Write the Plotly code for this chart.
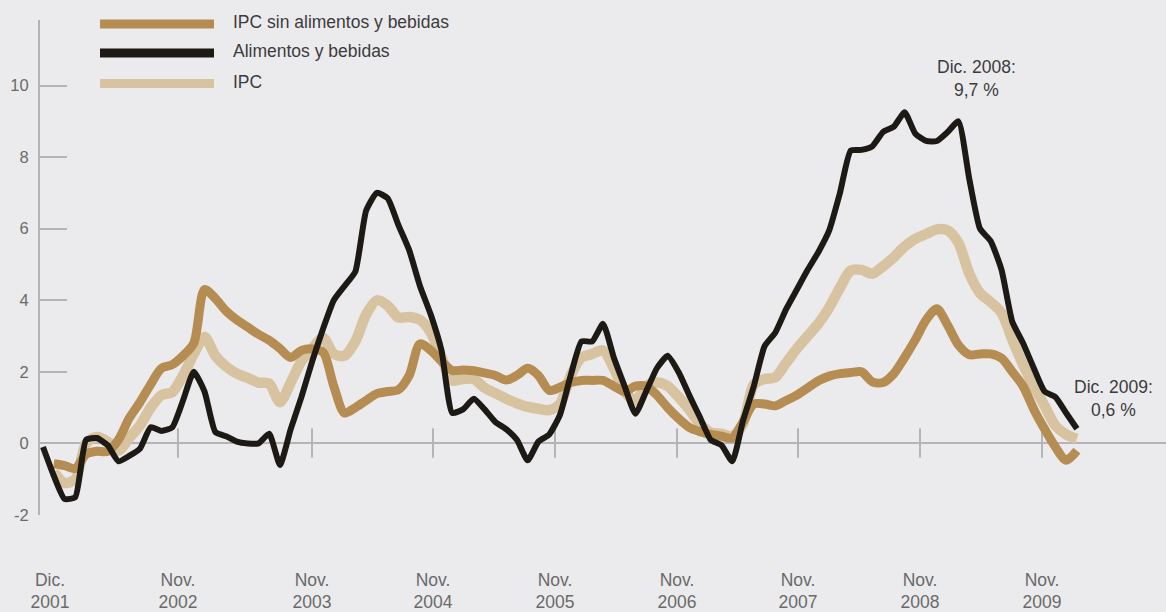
import plotly.graph_objects as go

# ---------------- data (monthly, Dic. 2001 = month 0 ... Dic. 2009 = month 96) ----------------
months = list(range(97))

alimentos = [
    -0.1, -0.9, -1.55, -1.5, 0.1, 0.15, -0.05, -0.5, -0.35, -0.15,
    0.45, 0.35, 0.45, 1.2, 2.0, 1.45, 0.32, 0.2, 0.05, 0.0,
    0.0, 0.27, -0.6, 0.4, 1.3, 2.3, 3.2, 4.0, 4.4, 4.8,
    6.5, 7.0, 6.85, 6.1, 5.4, 4.4, 3.6, 2.6, 0.85, 0.95,
    1.25, 0.95, 0.6, 0.4, 0.1, -0.47, 0.05, 0.25, 0.8, 1.9,
    2.85, 2.85, 3.34, 2.4, 1.6, 0.83, 1.45, 2.1, 2.45, 2.0,
    1.35, 0.73, 0.1, -0.05, -0.5, 0.64, 1.6, 2.72, 3.1, 3.75,
    4.3, 4.85, 5.35, 5.95, 7.0, 8.18, 8.2, 8.3, 8.7, 8.85,
    9.25, 8.65, 8.45, 8.45, 8.7, 9.0, 7.4, 6.0, 5.65, 4.85,
    3.4, 2.8, 2.1, 1.45, 1.3, 0.85, 0.41,
]

ipc_sin_alimentos = [
    None, -0.57, -0.62, -0.7, -0.3, -0.22, -0.22, 0.1, 0.7, 1.15,
    1.65, 2.1, 2.2, 2.45, 2.8, 4.3, 4.05, 3.7, 3.45, 3.25,
    3.05, 2.88, 2.65, 2.4, 2.6, 2.64, 2.55, 1.6, 0.85, 1.0,
    1.2, 1.39, 1.45, 1.5, 1.9, 2.78, 2.6, 2.3, 2.04, 2.05,
    2.03, 1.97, 1.9, 1.77, 1.9, 2.1, 1.9, 1.48, 1.57, 1.7,
    1.76, 1.76, 1.76, 1.6, 1.45, 1.6, 1.6, 1.35, 1.0, 0.7,
    0.45, 0.33, 0.25, 0.2, 0.15, 0.6, 1.1, 1.1, 1.05, 1.2,
    1.35, 1.55, 1.75, 1.88, 1.95, 1.98, 2.0, 1.72, 1.7, 1.95,
    2.4, 2.9, 3.45, 3.76, 3.3, 2.75, 2.48, 2.5, 2.5, 2.38,
    2.0, 1.6, 0.95, 0.4, -0.1, -0.47, -0.2,
]

ipc = [
    None, -0.8, -1.1, -1.0, 0.0, 0.18, 0.05, -0.2, 0.15, 0.5,
    1.0, 1.35, 1.43, 1.9, 2.5, 2.97, 2.45, 2.15, 1.95, 1.83,
    1.7, 1.67, 1.15, 1.7, 2.3, 2.65, 2.95, 2.5, 2.45, 2.85,
    3.6, 4.0, 3.85, 3.52, 3.53, 3.45, 3.1, 2.41, 1.76, 1.8,
    1.8, 1.55, 1.4, 1.25, 1.12, 1.02, 0.97, 0.93, 1.1, 1.9,
    2.4, 2.5, 2.6, 2.1, 1.45, 1.2, 1.6, 1.7, 1.6, 1.3,
    0.95, 0.55, 0.3, 0.27, 0.2, 0.55, 1.65, 1.8, 1.85, 2.25,
    2.65, 3.0, 3.35, 3.8, 4.35, 4.83, 4.85, 4.74, 4.95, 5.2,
    5.5, 5.72, 5.85, 5.98, 5.95, 5.6, 4.75, 4.2, 3.95, 3.65,
    2.9, 2.2, 1.6, 1.05, 0.5, 0.25, 0.13,
]

series_names = ["IPC sin alimentos y bebidas", "Alimentos y bebidas", "IPC"]

x_tick_labels = ["Dic.<br>2001", "Nov.<br>2002", "Nov.<br>2003", "Nov.<br>2004", "Nov.<br>2005",
                 "Nov.<br>2006", "Nov.<br>2007", "Nov.<br>2008", "Nov.<br>2009"]
x_tick_pos = [0.65, 12.53, 24.98, 36.21, 47.54, 58.87, 70.10, 81.43, 92.76]

y_tick_vals = [-2, 0, 2, 4, 6, 8, 10, 11.83]
y_tick_text = ["-2", "0", "2", "4", "6", "8", "10", ""]

# ---------------- styles ----------------
C_BROWN = "#B58D52"
C_BLACK = "#1D1A15"
C_LIGHT = "#D8C3A0"
C_AXIS = "#B4B4B6"
BG = "#EBEBED"
FONT = "Liberation Sans"

W, H = 1166, 612
ML, MR, MT, MB = 40, 0, 20, 97
PW, PH = W - ML - MR, H - MT - MB


def px_x(px):
    return (px - ML) / PW


def px_y(py):
    return (H - MB - py) / PH


fig = go.Figure()
fig.add_trace(go.Scatter(x=months, y=ipc, mode="lines", name=series_names[2],
                         line=dict(color=C_LIGHT, width=10.5, shape="spline", smoothing=0.8)))
fig.add_trace(go.Scatter(x=months, y=ipc_sin_alimentos, mode="lines", name=series_names[0],
                         line=dict(color=C_BROWN, width=9, shape="spline", smoothing=0.8)))
fig.add_trace(go.Scatter(x=months, y=alimentos, mode="lines", name=series_names[1],
                         line=dict(color=C_BLACK, width=6, shape="spline", smoothing=0.5)))

shapes = []
# x tick marks crossing the zero line
for p in x_tick_pos[1:]:
    shapes.append(dict(type="line", xref="x", yref="y", x0=p, x1=p, y0=-0.4, y1=0.42,
                       line=dict(color=C_AXIS, width=2), layer="below"))

# manual legend (long swatches)
legend_rows = [(series_names[0], C_BROWN, 24), (series_names[1], C_BLACK, 53), (series_names[2], C_LIGHT, 83.5)]
annotations = []
for name, col, row in legend_rows:
    shapes.append(dict(type="line", xref="paper", yref="paper", x0=px_x(100), x1=px_x(214),
                       y0=px_y(row), y1=px_y(row), line=dict(color=col, width=9)))
    annotations.append(dict(text=name, xref="paper", yref="paper", x=px_x(231), y=px_y(row - 2),
                            xanchor="left", yanchor="middle", showarrow=False,
                            font=dict(family=FONT, size=17.5, color="#3c3c3c")))

annotations.append(dict(text="Dic. 2008:<br>9,7 %", x=86.7, y=10.2, xref="x", yref="y",
                        showarrow=False, xanchor="center", yanchor="middle", align="center",
                        font=dict(family=FONT, size=17.5, color="#3c3c3c")))
annotations.append(dict(text="Dic. 2009:<br>0,6 %", x=99.4, y=1.26, xref="x", yref="y",
                        showarrow=False, xanchor="center", yanchor="middle", align="center",
                        font=dict(family=FONT, size=17.5, color="#3c3c3c")))

fig.update_layout(
    width=W, height=H,
    margin=dict(l=ML, r=MR, t=MT, b=MB, pad=0),
    paper_bgcolor=BG, plot_bgcolor=BG,
    showlegend=False,
    hovermode=False,
    shapes=shapes, annotations=annotations,
    xaxis=dict(range=[(40 - 43) / 10.77, (1166 - 43) / 10.77], showgrid=False, zeroline=False,
               showline=False, ticks="", tickvals=x_tick_pos, ticktext=x_tick_labels,
               tickfont=dict(family=FONT, size=17.5, color="#6a6a6a"),
               ticklabelstandoff=52),
    yaxis=dict(range=[-2, 11.83], showgrid=False, zeroline=True, zerolinecolor=C_AXIS,
               zerolinewidth=2, showline=True, linecolor=C_AXIS, linewidth=2,
               ticks="inside", ticklen=27, tickwidth=2, tickcolor=C_AXIS,
               tickvals=y_tick_vals, ticktext=y_tick_text,
               tickfont=dict(family=FONT, size=16.5, color="#6a6a6a"),
               ticklabelstandoff=6),
)

page_js = ("document.body.style.margin='0';document.body.style.padding='0';"
           "document.body.style.overflow='hidden';document.body.style.background='" + BG + "';")
fig.write_html("out.html", post_script=page_js, config={"displayModeBar": False})
